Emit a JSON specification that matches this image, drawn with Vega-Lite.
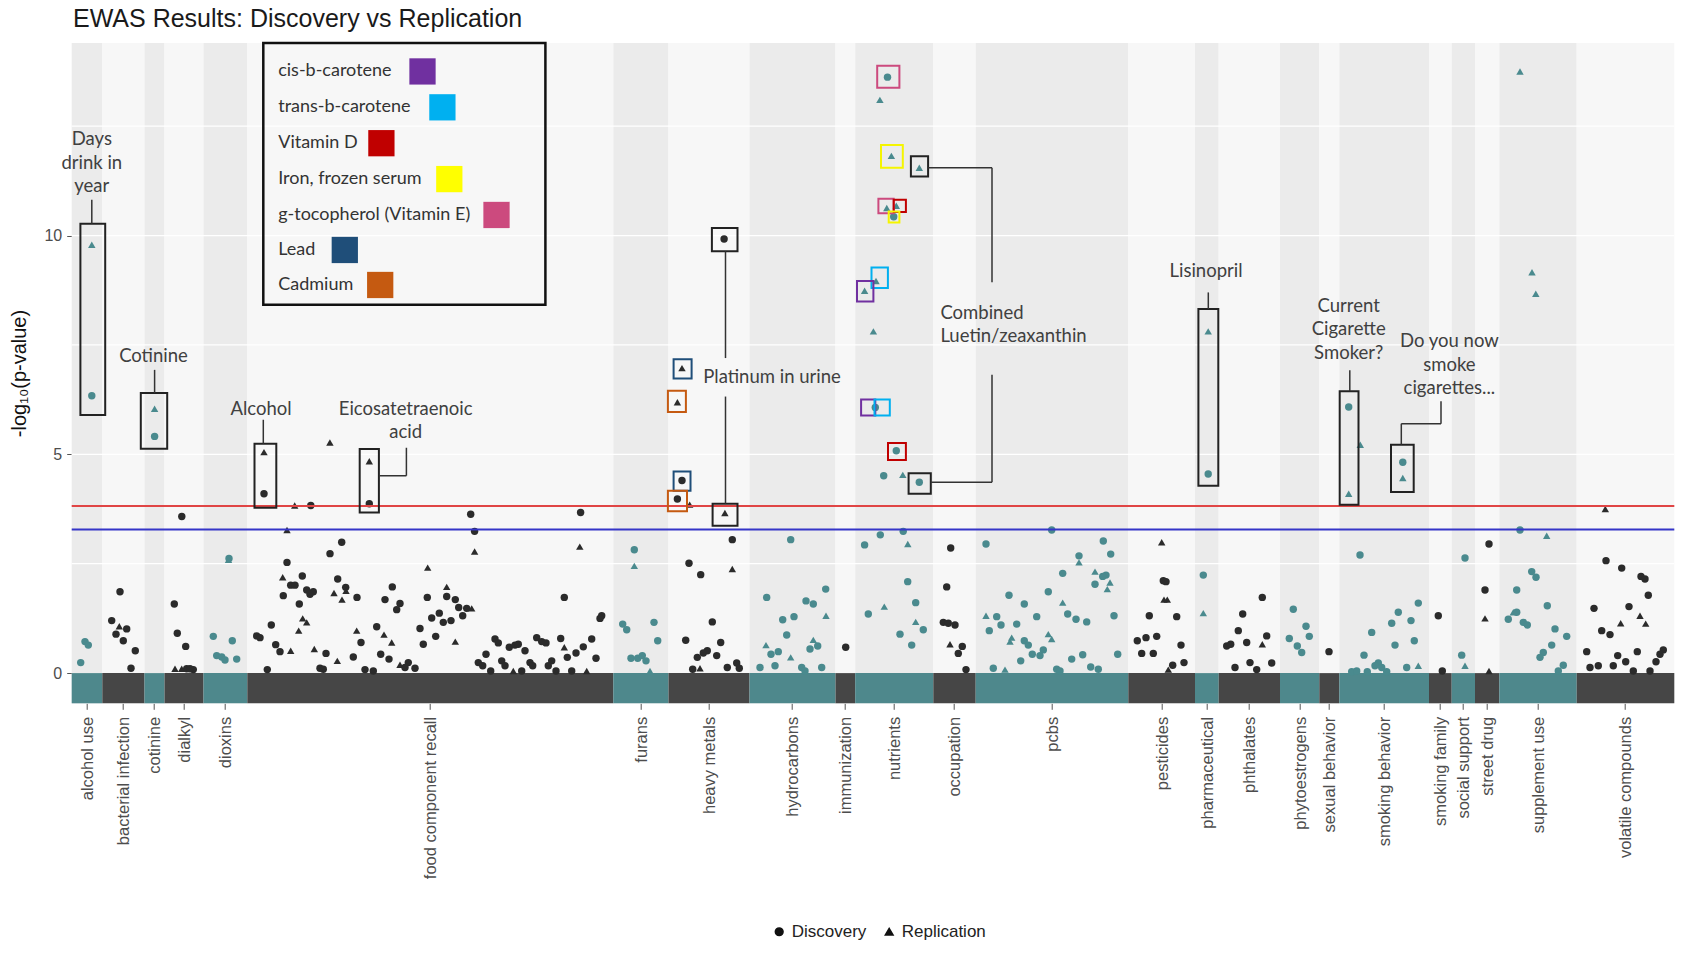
{
"$schema": "https://vega.github.io/schema/vega-lite/v6.json",
"width": 1602.6, "height": 660.3,
"autosize": {"type": "none"},
"padding": {"left": 71.7, "top": 43, "right": 14.7, "bottom": 251.7},
"background": "white",
"config": {"view": {"stroke": null}},
"datasets": {
"heading": [{"x":73,"y":14.77,"t":"EWAS Results: Discovery vs Replication"}],
"cats": [
{"n":"alcohol use","a":71.7,"b":102.3,"g":"t"},
{"n":"bacterial infection","a":102.3,"b":144.5,"g":"d"},
{"n":"cotinine","a":144.5,"b":164.5,"g":"t"},
{"n":"dialkyl","a":164.5,"b":203.5,"g":"d"},
{"n":"dioxins","a":203.5,"b":247.3,"g":"t"},
{"n":"food component recall","a":247.3,"b":613.3,"g":"d"},
{"n":"furans","a":613.3,"b":668.5,"g":"t"},
{"n":"heavy metals","a":668.5,"b":749.5,"g":"d"},
{"n":"hydrocarbons","a":749.5,"b":835.5,"g":"t"},
{"n":"immunization","a":835.5,"b":855.2,"g":"d"},
{"n":"nutrients","a":855.2,"b":933.3,"g":"t"},
{"n":"occupation","a":933.3,"b":975.7,"g":"d"},
{"n":"pcbs","a":975.7,"b":1128.3,"g":"t"},
{"n":"pesticides","a":1128.3,"b":1195,"g":"d"},
{"n":"pharmaceutical","a":1195,"b":1218.7,"g":"t"},
{"n":"phthalates","a":1218.7,"b":1280,"g":"d"},
{"n":"phytoestrogens","a":1280,"b":1319.3,"g":"t"},
{"n":"sexual behavior","a":1319.3,"b":1339.3,"g":"d"},
{"n":"smoking behavior","a":1339.3,"b":1429,"g":"t"},
{"n":"smoking family","a":1429,"b":1451.7,"g":"d"},
{"n":"social support","a":1451.7,"b":1475,"g":"t"},
{"n":"street drug","a":1475,"b":1499.3,"g":"d"},
{"n":"supplement use","a":1499.3,"b":1576.7,"g":"t"},
{"n":"volatile compounds","a":1576.7,"b":1674.3,"g":"d"}
],
"grid": [{"v":2.5},{"v":5},{"v":7.5},{"v":10},{"v":12.5}],
"thr": [{"v":3.82,"k":"Bonferroni"},{"v":3.28,"k":"FDR"}],
"pts": [
{"x":91.8,"p":9.79,"s":"R","g":"t"},{"x":91.8,"p":6.34,"s":"D","g":"t"},{"x":80.7,"p":0.24,"s":"D","g":"t"},{"x":85,"p":0.72,"s":"D","g":"t"},{"x":88.3,"p":0.64,"s":"D","g":"t"},
{"x":120,"p":1.86,"s":"D","g":"d"},{"x":111.7,"p":1.2,"s":"D","g":"d"},{"x":116,"p":0.89,"s":"D","g":"d"},{"x":119.3,"p":1.07,"s":"R","g":"d"},{"x":126.7,"p":1.01,"s":"D","g":"d"},{"x":123.3,"p":0.74,"s":"D","g":"d"},{"x":135.3,"p":0.51,"s":"D","g":"d"},{"x":131,"p":0.11,"s":"D","g":"d"},
{"x":154.6,"p":6.04,"s":"R","g":"t"},{"x":154.6,"p":5.41,"s":"D","g":"t"},
{"x":181.8,"p":3.58,"s":"D","g":"d"},{"x":174.3,"p":1.58,"s":"D","g":"d"},{"x":177.3,"p":0.91,"s":"D","g":"d"},{"x":185.7,"p":0.61,"s":"D","g":"d"},{"x":175,"p":0.1,"s":"R","g":"d"},{"x":181.7,"p":0.1,"s":"R","g":"d"},{"x":186.7,"p":0.1,"s":"D","g":"d"},{"x":193.3,"p":0.08,"s":"D","g":"d"},{"x":190,"p":0.1,"s":"D","g":"d"},
{"x":229,"p":2.62,"s":"D","g":"t"},{"x":228.5,"p":2.59,"s":"R","g":"t"},{"x":213.3,"p":0.84,"s":"D","g":"t"},{"x":232.3,"p":0.74,"s":"D","g":"t"},{"x":216.7,"p":0.4,"s":"D","g":"t"},{"x":221.7,"p":0.37,"s":"D","g":"t"},{"x":225,"p":0.3,"s":"D","g":"t"},{"x":236.7,"p":0.32,"s":"D","g":"t"},
{"x":264,"p":5.05,"s":"R","g":"d"},{"x":264,"p":4.1,"s":"D","g":"d"},{"x":369.3,"p":4.84,"s":"R","g":"d"},{"x":369.3,"p":3.87,"s":"D","g":"d"},{"x":329.9,"p":5.27,"s":"R","g":"d"},{"x":294.7,"p":3.83,"s":"R","g":"d"},{"x":310.8,"p":3.83,"s":"D","g":"d"},{"x":470.7,"p":3.63,"s":"D","g":"d"},{"x":580.6,"p":3.67,"s":"D","g":"d"},{"x":287,"p":3.27,"s":"R","g":"d"},{"x":474.6,"p":3.24,"s":"D","g":"d"},{"x":474.6,"p":2.78,"s":"R","g":"d"},{"x":579.8,"p":2.89,"s":"R","g":"d"},
{"x":256.7,"p":0.85,"s":"D","g":"d"},{"x":260,"p":0.81,"s":"D","g":"d"},{"x":267.3,"p":0.08,"s":"D","g":"d"},{"x":271.3,"p":1.1,"s":"D","g":"d"},{"x":275.7,"p":0.65,"s":"D","g":"d"},{"x":280,"p":0.49,"s":"D","g":"d"},{"x":290.7,"p":0.51,"s":"R","g":"d"},{"x":287,"p":2.53,"s":"D","g":"d"},{"x":282.7,"p":2.19,"s":"R","g":"d"},{"x":290.7,"p":2.01,"s":"D","g":"d"},{"x":295,"p":2.01,"s":"D","g":"d"},{"x":283.3,"p":1.77,"s":"D","g":"d"},{"x":302.3,"p":2.22,"s":"D","g":"d"},{"x":299.3,"p":1.58,"s":"D","g":"d"},{"x":302.7,"p":1.25,"s":"R","g":"d"},{"x":306.7,"p":1.16,"s":"R","g":"d"},{"x":298.7,"p":0.97,"s":"R","g":"d"},{"x":306.7,"p":1.9,"s":"D","g":"d"},{"x":313.3,"p":1.86,"s":"D","g":"d"},{"x":310,"p":1.8,"s":"D","g":"d"},{"x":314.3,"p":0.55,"s":"R","g":"d"},{"x":326,"p":0.45,"s":"D","g":"d"},{"x":320,"p":0.11,"s":"D","g":"d"},{"x":323.3,"p":0.09,"s":"D","g":"d"},{"x":330,"p":2.73,"s":"D","g":"d"},{"x":341.7,"p":2.99,"s":"D","g":"d"},{"x":337.7,"p":2.15,"s":"D","g":"d"},{"x":334,"p":1.83,"s":"R","g":"d"},{"x":345.7,"p":1.96,"s":"D","g":"d"},{"x":346,"p":1.88,"s":"R","g":"d"},{"x":342,"p":1.68,"s":"R","g":"d"},{"x":357,"p":1.73,"s":"D","g":"d"},{"x":337.3,"p":0.28,"s":"R","g":"d"},{"x":353.3,"p":0.37,"s":"D","g":"d"},{"x":356.7,"p":0.97,"s":"R","g":"d"},{"x":361,"p":0.7,"s":"D","g":"d"},{"x":365,"p":0.08,"s":"D","g":"d"},{"x":373.3,"p":0.05,"s":"D","g":"d"},{"x":376.7,"p":1.06,"s":"D","g":"d"},{"x":384,"p":0.88,"s":"R","g":"d"},{"x":391.7,"p":0.7,"s":"R","g":"d"},{"x":380.7,"p":0.43,"s":"D","g":"d"},{"x":389,"p":0.32,"s":"D","g":"d"},{"x":385,"p":1.68,"s":"D","g":"d"},{"x":392.3,"p":1.97,"s":"D","g":"d"},{"x":400,"p":1.59,"s":"D","g":"d"},{"x":396.7,"p":1.45,"s":"D","g":"d"},{"x":400,"p":0.19,"s":"R","g":"d"},{"x":408.3,"p":0.24,"s":"D","g":"d"},{"x":405,"p":0.13,"s":"D","g":"d"},{"x":415,"p":0.11,"s":"D","g":"d"},{"x":420,"p":1.02,"s":"D","g":"d"},{"x":423.3,"p":0.66,"s":"D","g":"d"},{"x":427.7,"p":2.41,"s":"R","g":"d"},{"x":427.3,"p":1.73,"s":"D","g":"d"},{"x":431.7,"p":1.26,"s":"D","g":"d"},{"x":435.7,"p":0.84,"s":"D","g":"d"},{"x":439.3,"p":1.37,"s":"D","g":"d"},{"x":443.3,"p":1.16,"s":"D","g":"d"},{"x":446.7,"p":1.97,"s":"R","g":"d"},{"x":446.7,"p":1.75,"s":"D","g":"d"},{"x":451,"p":1.2,"s":"D","g":"d"},{"x":455.3,"p":0.72,"s":"R","g":"d"},{"x":455.3,"p":1.68,"s":"D","g":"d"},{"x":458.7,"p":1.5,"s":"D","g":"d"},{"x":462.7,"p":1.31,"s":"D","g":"d"},{"x":466.7,"p":1.48,"s":"D","g":"d"},{"x":471.7,"p":1.48,"s":"R","g":"d"},{"x":478.3,"p":0.24,"s":"D","g":"d"},
{"x":564.3,"p":1.73,"s":"D","g":"d"},{"x":601.7,"p":1.31,"s":"D","g":"d"},{"x":600,"p":1.25,"s":"D","g":"d"},{"x":495,"p":0.78,"s":"D","g":"d"},{"x":498.3,"p":0.69,"s":"D","g":"d"},{"x":486,"p":0.43,"s":"D","g":"d"},{"x":482.7,"p":0.17,"s":"D","g":"d"},{"x":490.7,"p":0.05,"s":"D","g":"d"},{"x":501.7,"p":0.28,"s":"D","g":"d"},{"x":505,"p":0.17,"s":"D","g":"d"},{"x":509.3,"p":0.59,"s":"D","g":"d"},{"x":515,"p":0.64,"s":"D","g":"d"},{"x":518.3,"p":0.66,"s":"D","g":"d"},{"x":525,"p":0.51,"s":"D","g":"d"},{"x":513.3,"p":0.05,"s":"R","g":"d"},{"x":521.7,"p":0.05,"s":"D","g":"d"},{"x":530,"p":0.24,"s":"D","g":"d"},{"x":532.7,"p":0.17,"s":"D","g":"d"},{"x":536.7,"p":0.81,"s":"D","g":"d"},{"x":541.7,"p":0.72,"s":"D","g":"d"},{"x":546,"p":0.69,"s":"D","g":"d"},{"x":551.7,"p":0.28,"s":"D","g":"d"},{"x":548.3,"p":0.17,"s":"D","g":"d"},{"x":556,"p":0.05,"s":"D","g":"d"},{"x":560.7,"p":0.79,"s":"D","g":"d"},{"x":564.3,"p":0.59,"s":"R","g":"d"},{"x":567.3,"p":0.36,"s":"D","g":"d"},{"x":571.7,"p":0.05,"s":"D","g":"d"},{"x":576,"p":0.46,"s":"D","g":"d"},{"x":583.3,"p":0.6,"s":"D","g":"d"},{"x":586.7,"p":0.05,"s":"R","g":"d"},{"x":591.7,"p":0.78,"s":"D","g":"d"},{"x":596,"p":0.34,"s":"D","g":"d"},
{"x":634.3,"p":2.82,"s":"D","g":"t"},{"x":634.3,"p":2.45,"s":"R","g":"t"},{"x":622.7,"p":1.12,"s":"D","g":"t"},{"x":626.7,"p":0.99,"s":"D","g":"t"},{"x":654,"p":1.16,"s":"D","g":"t"},{"x":657.7,"p":0.74,"s":"D","g":"t"},{"x":631,"p":0.34,"s":"D","g":"t"},{"x":637.7,"p":0.34,"s":"D","g":"t"},{"x":642.3,"p":0.4,"s":"D","g":"t"},{"x":646,"p":0.28,"s":"D","g":"t"},{"x":650,"p":0.05,"s":"R","g":"t"},
{"x":682,"p":6.97,"s":"R","g":"d"},{"x":677.4,"p":6.19,"s":"R","g":"d"},{"x":682,"p":4.4,"s":"D","g":"d"},{"x":677.4,"p":3.98,"s":"D","g":"d"},{"x":689.7,"p":3.85,"s":"R","g":"d"},{"x":724.9,"p":3.66,"s":"R","g":"d"},{"x":724.1,"p":9.92,"s":"D","g":"d"},{"x":732.3,"p":3.05,"s":"D","g":"d"},{"x":732.3,"p":2.38,"s":"R","g":"d"},{"x":689,"p":2.51,"s":"D","g":"d"},{"x":700.7,"p":2.25,"s":"D","g":"d"},{"x":712.3,"p":1.17,"s":"D","g":"d"},{"x":685.7,"p":0.75,"s":"D","g":"d"},{"x":720.7,"p":0.7,"s":"D","g":"d"},{"x":707.3,"p":0.51,"s":"D","g":"d"},{"x":703.3,"p":0.46,"s":"D","g":"d"},{"x":697.3,"p":0.36,"s":"D","g":"d"},{"x":716.7,"p":0.4,"s":"D","g":"d"},{"x":692.7,"p":0.09,"s":"D","g":"d"},{"x":700,"p":0.11,"s":"R","g":"d"},{"x":727.3,"p":0.13,"s":"D","g":"d"},{"x":736.7,"p":0.23,"s":"D","g":"d"},{"x":739.3,"p":0.11,"s":"D","g":"d"},
{"x":790.7,"p":3.05,"s":"D","g":"t"},{"x":766.7,"p":1.73,"s":"D","g":"t"},{"x":825.7,"p":1.92,"s":"D","g":"t"},{"x":806,"p":1.65,"s":"D","g":"t"},{"x":813.3,"p":1.58,"s":"D","g":"t"},{"x":826,"p":1.31,"s":"R","g":"t"},{"x":794,"p":1.29,"s":"D","g":"t"},{"x":782.7,"p":1.22,"s":"D","g":"t"},{"x":786.7,"p":0.87,"s":"D","g":"t"},{"x":766,"p":0.64,"s":"R","g":"t"},{"x":813.3,"p":0.76,"s":"R","g":"t"},{"x":817.7,"p":0.62,"s":"D","g":"t"},{"x":810,"p":0.55,"s":"D","g":"t"},{"x":771,"p":0.43,"s":"D","g":"t"},{"x":778.3,"p":0.49,"s":"D","g":"t"},{"x":790.7,"p":0.36,"s":"R","g":"t"},{"x":775,"p":0.17,"s":"D","g":"t"},{"x":760,"p":0.13,"s":"D","g":"t"},{"x":801.7,"p":0.13,"s":"D","g":"t"},{"x":821.7,"p":0.13,"s":"D","g":"t"},{"x":805,"p":0.05,"s":"D","g":"t"},
{"x":845.7,"p":0.59,"s":"D","g":"d"},
{"x":887.5,"p":13.62,"s":"D","g":"t"},{"x":879.9,"p":13.1,"s":"R","g":"t"},{"x":891.4,"p":11.82,"s":"R","g":"t"},{"x":919.3,"p":11.55,"s":"R","g":"t"},{"x":886.8,"p":10.63,"s":"R","g":"t"},{"x":896.3,"p":10.68,"s":"R","g":"t"},{"x":893.7,"p":10.43,"s":"D","g":"t"},{"x":876,"p":8.96,"s":"R","g":"t"},{"x":864.6,"p":8.74,"s":"R","g":"t"},{"x":873.4,"p":7.81,"s":"R","g":"t"},{"x":875.3,"p":6.07,"s":"D","g":"t"},{"x":896.3,"p":5.08,"s":"D","g":"t"},{"x":883.7,"p":4.51,"s":"D","g":"t"},{"x":902.8,"p":4.53,"s":"R","g":"t"},{"x":919.3,"p":4.36,"s":"D","g":"t"},{"x":864.6,"p":2.93,"s":"D","g":"t"},{"x":880.3,"p":3.16,"s":"D","g":"t"},{"x":903.2,"p":3.24,"s":"D","g":"t"},{"x":907.8,"p":2.95,"s":"R","g":"t"},{"x":907.7,"p":2.09,"s":"D","g":"t"},{"x":915.7,"p":1.61,"s":"D","g":"t"},{"x":868.3,"p":1.35,"s":"D","g":"t"},{"x":884.3,"p":1.52,"s":"R","g":"t"},{"x":915.7,"p":1.17,"s":"R","g":"t"},{"x":923.3,"p":0.99,"s":"D","g":"t"},{"x":900,"p":0.89,"s":"D","g":"t"},{"x":911.7,"p":0.64,"s":"D","g":"t"},
{"x":950.7,"p":2.86,"s":"D","g":"d"},{"x":946.7,"p":1.97,"s":"D","g":"d"},{"x":943.3,"p":1.16,"s":"D","g":"d"},{"x":948.3,"p":1.14,"s":"D","g":"d"},{"x":955,"p":1.1,"s":"D","g":"d"},{"x":950,"p":0.66,"s":"R","g":"d"},{"x":962.3,"p":0.61,"s":"D","g":"d"},{"x":958.3,"p":0.45,"s":"D","g":"d"},{"x":966,"p":0.08,"s":"D","g":"d"},
{"x":986,"p":2.95,"s":"D","g":"t"},{"x":1103.3,"p":3.02,"s":"D","g":"t"},{"x":1051.7,"p":3.27,"s":"D","g":"t"},{"x":1110.7,"p":2.72,"s":"D","g":"t"},{"x":1079,"p":2.68,"s":"D","g":"t"},{"x":1079,"p":2.53,"s":"R","g":"t"},{"x":1062.7,"p":2.28,"s":"D","g":"t"},{"x":1095,"p":2.32,"s":"R","g":"t"},{"x":1106,"p":2.24,"s":"D","g":"t"},{"x":1102.7,"p":2.21,"s":"D","g":"t"},{"x":1095,"p":2.03,"s":"D","g":"t"},{"x":1110,"p":2.07,"s":"R","g":"t"},{"x":1107.3,"p":1.92,"s":"R","g":"t"},{"x":1048.3,"p":1.86,"s":"D","g":"t"},{"x":1009,"p":1.78,"s":"D","g":"t"},{"x":1024.3,"p":1.58,"s":"D","g":"t"},{"x":1062.7,"p":1.61,"s":"R","g":"t"},{"x":1067.7,"p":1.35,"s":"D","g":"t"},{"x":1076,"p":1.23,"s":"D","g":"t"},{"x":1086.7,"p":1.17,"s":"D","g":"t"},{"x":1114,"p":1.31,"s":"D","g":"t"},{"x":986,"p":1.31,"s":"R","g":"t"},{"x":996.7,"p":1.29,"s":"D","g":"t"},{"x":1036.7,"p":1.29,"s":"D","g":"t"},{"x":989.3,"p":0.97,"s":"D","g":"t"},{"x":1001,"p":1.1,"s":"D","g":"t"},{"x":1016.7,"p":1.12,"s":"D","g":"t"},{"x":1011.7,"p":0.81,"s":"R","g":"t"},{"x":1010,"p":0.72,"s":"R","g":"t"},{"x":1024.3,"p":0.74,"s":"D","g":"t"},{"x":1028.3,"p":0.64,"s":"D","g":"t"},{"x":1048.3,"p":0.89,"s":"R","g":"t"},{"x":1051.7,"p":0.78,"s":"R","g":"t"},{"x":1043.3,"p":0.53,"s":"D","g":"t"},{"x":1040,"p":0.4,"s":"D","g":"t"},{"x":1032.3,"p":0.43,"s":"D","g":"t"},{"x":1020.7,"p":0.28,"s":"D","g":"t"},{"x":1071.7,"p":0.32,"s":"D","g":"t"},{"x":1082.7,"p":0.42,"s":"D","g":"t"},{"x":1117.7,"p":0.43,"s":"D","g":"t"},{"x":1090.7,"p":0.14,"s":"D","g":"t"},{"x":1098.3,"p":0.09,"s":"D","g":"t"},{"x":993.3,"p":0.11,"s":"D","g":"t"},{"x":1005,"p":0.08,"s":"R","g":"t"},{"x":1056.7,"p":0.09,"s":"D","g":"t"},{"x":1060,"p":0.05,"s":"D","g":"t"},
{"x":1161.7,"p":2.99,"s":"R","g":"d"},{"x":1163.3,"p":2.11,"s":"D","g":"d"},{"x":1166,"p":2.09,"s":"D","g":"d"},{"x":1167.3,"p":1.68,"s":"R","g":"d"},{"x":1164,"p":1.68,"s":"R","g":"d"},{"x":1149.3,"p":1.31,"s":"D","g":"d"},{"x":1176.7,"p":1.29,"s":"D","g":"d"},{"x":1137.3,"p":0.74,"s":"D","g":"d"},{"x":1146,"p":0.81,"s":"D","g":"d"},{"x":1156.7,"p":0.84,"s":"D","g":"d"},{"x":1141.7,"p":0.45,"s":"D","g":"d"},{"x":1153.3,"p":0.45,"s":"D","g":"d"},{"x":1181,"p":0.64,"s":"D","g":"d"},{"x":1172.7,"p":0.18,"s":"D","g":"d"},{"x":1184,"p":0.24,"s":"D","g":"d"},{"x":1168.3,"p":0.08,"s":"R","g":"d"},
{"x":1208.2,"p":7.81,"s":"R","g":"t"},{"x":1208.2,"p":4.55,"s":"D","g":"t"},{"x":1203.3,"p":2.24,"s":"D","g":"t"},{"x":1203.3,"p":1.37,"s":"R","g":"t"},
{"x":1262.3,"p":1.73,"s":"D","g":"d"},{"x":1242.7,"p":1.35,"s":"D","g":"d"},{"x":1238.3,"p":0.97,"s":"D","g":"d"},{"x":1246.7,"p":0.7,"s":"D","g":"d"},{"x":1262.3,"p":0.66,"s":"R","g":"d"},{"x":1266.7,"p":0.85,"s":"D","g":"d"},{"x":1226.7,"p":0.62,"s":"D","g":"d"},{"x":1230.7,"p":0.66,"s":"D","g":"d"},{"x":1271.7,"p":0.23,"s":"D","g":"d"},{"x":1250,"p":0.24,"s":"D","g":"d"},{"x":1235,"p":0.13,"s":"D","g":"d"},{"x":1256.7,"p":0.08,"s":"D","g":"d"},
{"x":1293.3,"p":1.46,"s":"D","g":"t"},{"x":1306,"p":1.07,"s":"D","g":"t"},{"x":1309.3,"p":0.84,"s":"D","g":"t"},{"x":1289.3,"p":0.79,"s":"D","g":"t"},{"x":1297.3,"p":0.62,"s":"D","g":"t"},{"x":1301.7,"p":0.47,"s":"D","g":"t"},
{"x":1329,"p":0.49,"s":"D","g":"d"},
{"x":1348.7,"p":6.08,"s":"D","g":"t"},{"x":1348.7,"p":4.1,"s":"R","g":"t"},{"x":1360.3,"p":5.22,"s":"R","g":"t"},{"x":1402.8,"p":4.82,"s":"D","g":"t"},{"x":1402.8,"p":4.46,"s":"R","g":"t"},{"x":1360,"p":2.7,"s":"D","g":"t"},{"x":1418.3,"p":1.6,"s":"D","g":"t"},{"x":1398.3,"p":1.39,"s":"D","g":"t"},{"x":1391.7,"p":1.14,"s":"D","g":"t"},{"x":1411,"p":1.2,"s":"D","g":"t"},{"x":1371.7,"p":0.93,"s":"D","g":"t"},{"x":1414.3,"p":0.74,"s":"D","g":"t"},{"x":1395,"p":0.64,"s":"D","g":"t"},{"x":1364,"p":0.41,"s":"D","g":"t"},{"x":1378.3,"p":0.23,"s":"D","g":"t"},{"x":1375,"p":0.17,"s":"D","g":"t"},{"x":1381.7,"p":0.13,"s":"D","g":"t"},{"x":1406.7,"p":0.13,"s":"D","g":"t"},{"x":1418.3,"p":0.17,"s":"R","g":"t"},{"x":1351.7,"p":0.03,"s":"D","g":"t"},{"x":1356.7,"p":0.05,"s":"D","g":"t"},{"x":1367.3,"p":0.03,"s":"D","g":"t"},{"x":1386.7,"p":0.03,"s":"D","g":"t"},
{"x":1442.3,"p":0.05,"s":"D","g":"d"},{"x":1438.3,"p":1.31,"s":"D","g":"d"},
{"x":1465,"p":2.63,"s":"D","g":"t"},{"x":1461.7,"p":0.41,"s":"D","g":"t"},{"x":1465,"p":0.17,"s":"R","g":"t"},
{"x":1489,"p":2.95,"s":"D","g":"d"},{"x":1485,"p":1.9,"s":"D","g":"d"},{"x":1485,"p":1.25,"s":"R","g":"d"},{"x":1489,"p":0.05,"s":"R","g":"d"},
{"x":1520,"p":13.75,"s":"R","g":"t"},{"x":1532,"p":9.16,"s":"R","g":"t"},{"x":1535.8,"p":8.67,"s":"R","g":"t"},{"x":1520,"p":3.27,"s":"D","g":"t"},{"x":1546.7,"p":3.14,"s":"R","g":"t"},{"x":1531.7,"p":2.32,"s":"D","g":"t"},{"x":1536,"p":2.19,"s":"D","g":"t"},{"x":1516.7,"p":1.9,"s":"D","g":"t"},{"x":1547.3,"p":1.54,"s":"D","g":"t"},{"x":1513.3,"p":1.39,"s":"R","g":"t"},{"x":1516.7,"p":1.39,"s":"D","g":"t"},{"x":1508.3,"p":1.23,"s":"D","g":"t"},{"x":1523.3,"p":1.16,"s":"D","g":"t"},{"x":1527.3,"p":1.1,"s":"D","g":"t"},{"x":1555,"p":1.01,"s":"D","g":"t"},{"x":1566.7,"p":0.84,"s":"D","g":"t"},{"x":1551.7,"p":0.64,"s":"D","g":"t"},{"x":1543.3,"p":0.47,"s":"D","g":"t"},{"x":1540,"p":0.36,"s":"D","g":"t"},{"x":1563.3,"p":0.18,"s":"D","g":"t"},{"x":1558.3,"p":0.05,"s":"D","g":"t"},
{"x":1605.3,"p":3.75,"s":"R","g":"d"},{"x":1606,"p":2.57,"s":"D","g":"d"},{"x":1621.7,"p":2.4,"s":"D","g":"d"},{"x":1641,"p":2.21,"s":"D","g":"d"},{"x":1645,"p":2.15,"s":"D","g":"d"},{"x":1648.3,"p":1.78,"s":"D","g":"d"},{"x":1594,"p":1.48,"s":"D","g":"d"},{"x":1629,"p":1.52,"s":"D","g":"d"},{"x":1640,"p":1.31,"s":"R","g":"d"},{"x":1645.7,"p":1.13,"s":"R","g":"d"},{"x":1620.7,"p":1.14,"s":"R","g":"d"},{"x":1601.7,"p":0.97,"s":"D","g":"d"},{"x":1610,"p":0.88,"s":"D","g":"d"},{"x":1586.7,"p":0.49,"s":"D","g":"d"},{"x":1617.7,"p":0.4,"s":"D","g":"d"},{"x":1637.3,"p":0.49,"s":"D","g":"d"},{"x":1625.7,"p":0.26,"s":"D","g":"d"},{"x":1613.3,"p":0.17,"s":"D","g":"d"},{"x":1590,"p":0.13,"s":"D","g":"d"},{"x":1598.3,"p":0.17,"s":"D","g":"d"},{"x":1663.3,"p":0.53,"s":"D","g":"d"},{"x":1660,"p":0.43,"s":"D","g":"d"},{"x":1656,"p":0.26,"s":"D","g":"d"},{"x":1650,"p":0.05,"s":"D","g":"d"},{"x":1633.3,"p":0.05,"s":"D","g":"d"}
],
"boxes": [
{"a":80.4,"b":105.2,"lo":5.9,"hi":10.27,"k":"annotation"},
{"a":140.8,"b":167.2,"lo":5.13,"hi":6.4,"k":"annotation"},
{"a":254.5,"b":276.3,"lo":3.78,"hi":5.24,"k":"annotation"},
{"a":359.7,"b":378.9,"lo":3.67,"hi":5.12,"k":"annotation"},
{"a":673.6,"b":691.6,"lo":6.73,"hi":7.17,"k":"Lead"},
{"a":667.9,"b":685.9,"lo":5.97,"hi":6.45,"k":"Cadmium"},
{"a":673.6,"b":690.5,"lo":4.17,"hi":4.61,"k":"Lead"},
{"a":667.9,"b":687,"lo":3.7,"hi":4.17,"k":"Cadmium"},
{"a":712.6,"b":737.5,"lo":3.37,"hi":3.87,"k":"annotation"},
{"a":711.9,"b":737.5,"lo":9.64,"hi":10.17,"k":"annotation"},
{"a":877.2,"b":899.4,"lo":13.38,"hi":13.88,"k":"g-tocopherol (Vitamin E)"},
{"a":881,"b":902.8,"lo":11.55,"hi":12.07,"k":"Iron, frozen serum"},
{"a":910.9,"b":928.1,"lo":11.35,"hi":11.81,"k":"annotation"},
{"a":878.4,"b":893.7,"lo":10.51,"hi":10.84,"k":"g-tocopherol (Vitamin E)"},
{"a":893.7,"b":905.9,"lo":10.54,"hi":10.82,"k":"Vitamin D"},
{"a":888.7,"b":899.4,"lo":10.3,"hi":10.55,"k":"Iron, frozen serum"},
{"a":871.5,"b":887.9,"lo":8.8,"hi":9.27,"k":"trans-b-carotene"},
{"a":857,"b":873.4,"lo":8.49,"hi":8.96,"k":"cis-b-carotene"},
{"a":861.1,"b":875.3,"lo":5.89,"hi":6.25,"k":"cis-b-carotene"},
{"a":874.5,"b":889.8,"lo":5.89,"hi":6.25,"k":"trans-b-carotene"},
{"a":888,"b":905.9,"lo":4.87,"hi":5.26,"k":"Vitamin D"},
{"a":908.6,"b":930.8,"lo":4.1,"hi":4.57,"k":"annotation"},
{"a":1198.4,"b":1218.3,"lo":4.28,"hi":8.32,"k":"annotation"},
{"a":1339.7,"b":1358.5,"lo":3.85,"hi":6.44,"k":"annotation"},
{"a":1391,"b":1413.7,"lo":4.14,"hi":5.22,"k":"annotation"}
],
"links": [
{"a":91.8,"y1":10.27,"b":91.8,"y2":10.82},
{"a":154.6,"y1":6.4,"b":154.6,"y2":6.93},
{"a":263.3,"y1":5.24,"b":263.3,"y2":5.79},
{"a":378.9,"y1":4.51,"b":406.4,"y2":4.51},
{"a":406.4,"y1":4.51,"b":406.4,"y2":5.15},
{"a":725.5,"y1":9.64,"b":725.5,"y2":7.2},
{"a":725.5,"y1":6.32,"b":725.5,"y2":3.87},
{"a":928.1,"y1":11.55,"b":992,"y2":11.55},
{"a":992,"y1":11.55,"b":992,"y2":8.93},
{"a":992,"y1":6.82,"b":992,"y2":4.36},
{"a":992,"y1":4.36,"b":930.8,"y2":4.36},
{"a":1208.3,"y1":8.7,"b":1208.3,"y2":8.32},
{"a":1349.8,"y1":6.92,"b":1349.8,"y2":6.44},
{"a":1441,"y1":6.21,"b":1441,"y2":5.7},
{"a":1441,"y1":5.7,"b":1401.3,"y2":5.7},
{"a":1401.3,"y1":5.7,"b":1401.3,"y2":5.22}
],
"notes": [
{"x":91.8,"y":12.2,"t":"Days\ndrink in\nyear"},
{"x":153.5,"y":7.25,"t":"Cotinine"},
{"x":261,"y":6.04,"t":"Alcohol"},
{"x":405.7,"y":6.04,"t":"Eicosatetraenoic\nacid"},
{"x":772,"y":6.76,"t":"Platinum in urine"},
{"x":1206,"y":9.18,"t":"Lisinopril"},
{"x":1348.7,"y":8.4,"t":"Current\nCigarette\nSmoker?"},
{"x":1449.4,"y":7.58,"t":"Do you now\nsmoke\ncigarettes..."}
],
"notesLeft": [
{"x":940.4,"y":8.23,"t":"Combined\nLuetin/zeaxanthin"}
],
"keybox": [{"a":263.3,"b":545.4,"lo":8.42,"hi":14.4}],
"keys": [
{"n":"cis-b-carotene","lx":278.2,"sx":422.5,"y":13.75},
{"n":"trans-b-carotene","lx":278.2,"sx":442.4,"y":12.93},
{"n":"Vitamin D","lx":278.2,"sx":381.4,"y":12.11},
{"n":"Iron, frozen serum","lx":278.2,"sx":449.3,"y":11.29},
{"n":"g-tocopherol (Vitamin E)","lx":278.2,"sx":496.5,"y":10.47},
{"n":"Lead","lx":278.2,"sx":344.8,"y":9.67},
{"n":"Cadmium","lx":278.2,"sx":380.2,"y":8.87}
]
},
"layer": [
{
"data": {"name": "cats"},
"mark": {"type": "rect"},
"encoding": {
"x": {"field": "a", "type": "quantitative", "scale": {"domain": [71.7, 1674.3], "nice": false, "zero": false},
 "axis": {"title": null, "grid": false, "domain": false, "values": [87,123,154,184,225,430,641,709,792,845,894,954,1052,1162,1207,1249,1300,1329,1384,1440,1463,1487,1538,1625],
  "labelExpr": "['alcohol use','bacterial infection','cotinine','dialkyl','dioxins','food component recall','furans','heavy metals','hydrocarbons','immunization','nutrients','occupation','pcbs','pesticides','pharmaceutical','phthalates','phytoestrogens','sexual behavior','smoking behavior','smoking family','social support','street drug','supplement use','volatile compounds'][indexof([87,123,154,184,225,430,641,709,792,845,894,954,1052,1162,1207,1249,1300,1329,1384,1440,1463,1487,1538,1625], datum.value)]",
  "labelAngle": -90, "labelFont": "Liberation Sans", "labelFontSize": 16.5, "labelColor": "#4d4d4d", "labelOverlap": false, "labelBound": false, "labelFlush": false, "labelPadding": 7, "labelLimit": 0,
  "tickColor": "#555555", "tickSize": 6, "tickWidth": 1}},
"x2": {"field": "b"},
"color": {"field": "g", "type": "nominal", "scale": {"domain": ["t","d"], "range": ["#ebebeb","#f7f7f7"]}, "legend": null}
}
},
{
"data": {"name": "grid"},
"mark": {"type": "rule", "color": "#ffffff", "strokeWidth": 1.2},
"encoding": {
"y": {"field": "v", "type": "quantitative", "scale": {"domain": [-0.69, 14.4], "nice": false, "zero": false},
 "axis": {"values": [0,5,10], "grid": false, "domain": false, "labelFont": "Liberation Sans", "labelFontSize": 16, "labelColor": "#4d4d4d", "labelPadding": 5, "tickColor": "#555555", "tickSize": 5,
  "title": "-log₁₀(p-value)", "titleFont": "Liberation Sans", "titleFontSize": 20, "titleFontWeight": "normal", "titleColor": "#111111", "titleX": -52, "titleY": 330, "titleBaseline": "middle", "titleAlign": "center", "titleAngle": 270}}
}
},
{
"data": {"name": "cats"},
"mark": {"type": "rect"},
"encoding": {
"x": {"field": "a", "type": "quantitative"},
"x2": {"field": "b"},
"y": {"datum": 0, "type": "quantitative"},
"y2": {"datum": -0.69},
"color": {"field": "g", "type": "nominal", "scale": {"domain": ["t","d"], "range": ["#4e888c","#464646"]}, "legend": null}
}
},
{
"data": {"name": "pts"},
"mark": {"type": "point", "filled": true, "size": 55, "opacity": 1},
"encoding": {
"x": {"field": "x", "type": "quantitative"},
"y": {"field": "p", "type": "quantitative"},
"shape": {"field": "s", "type": "nominal", "scale": {"domain": ["D","R"], "range": ["circle","triangle-up"]},
 "legend": {"orient": "none", "legendX": 699, "legendY": 880, "direction": "horizontal", "title": null, "labelExpr": "datum.label == 'D' ? 'Discovery' : 'Replication'", "labelFont": "Liberation Sans", "labelFontSize": 17, "labelColor": "#222222", "symbolFillColor": "#111111", "symbolStrokeColor": "#111111", "symbolSize": 60, "columnPadding": 14}},
"color": {"field": "g", "type": "nominal", "scale": {"domain": ["t","d"], "range": ["#4a8a8e","#2b2b2b"]}, "legend": null}
}
},
{
"data": {"name": "thr"},
"mark": {"type": "rule", "strokeWidth": 2},
"encoding": {
"y": {"field": "v", "type": "quantitative"},
"color": {"field": "k", "type": "nominal", "scale": {"domain": ["Bonferroni","FDR"], "range": ["#e04545","#3535c8"]}, "legend": null}
}
},
{
"data": {"name": "boxes"},
"mark": {"type": "rect", "filled": false, "strokeWidth": 2},
"encoding": {
"x": {"field": "a", "type": "quantitative"},
"x2": {"field": "b"},
"y": {"field": "lo", "type": "quantitative"},
"y2": {"field": "hi"},
"color": {"field": "k", "type": "nominal", "scale": {"domain": ["annotation","cis-b-carotene","trans-b-carotene","Vitamin D","Iron, frozen serum","g-tocopherol (Vitamin E)","Lead","Cadmium"], "range": ["#222222","#7030a0","#00b0f0","#c00000","#f5f500","#cc4a7e","#1f4e79","#c55a11"]}, "legend": null}
}
},
{
"data": {"name": "links"},
"mark": {"type": "rule", "color": "#333333", "strokeWidth": 1.5},
"encoding": {
"x": {"field": "a", "type": "quantitative"},
"x2": {"field": "b"},
"y": {"field": "y1", "type": "quantitative"},
"y2": {"field": "y2"}
}
},
{
"data": {"name": "notes"},
"mark": {"type": "text", "font": "Lato", "fontSize": 18.5, "color": "#404040", "align": "center", "baseline": "middle", "lineBreak": "\n", "lineHeight": 23.5},
"encoding": {
"x": {"field": "x", "type": "quantitative"},
"y": {"field": "y", "type": "quantitative"},
"text": {"field": "t"}
}
},
{
"data": {"name": "notesLeft"},
"mark": {"type": "text", "font": "Lato", "fontSize": 18.5, "color": "#404040", "align": "left", "baseline": "middle", "lineBreak": "\n", "lineHeight": 23.5},
"encoding": {
"x": {"field": "x", "type": "quantitative"},
"y": {"field": "y", "type": "quantitative"},
"text": {"field": "t"}
}
},
{
"data": {"name": "keybox"},
"mark": {"type": "rect", "fill": null, "stroke": "#111111", "strokeWidth": 2.5},
"encoding": {
"x": {"field": "a", "type": "quantitative"},
"x2": {"field": "b"},
"y": {"field": "lo", "type": "quantitative"},
"y2": {"field": "hi"}
}
},
{
"data": {"name": "keys"},
"mark": {"type": "text", "font": "Lato", "fontSize": 18, "color": "#333333", "align": "left", "baseline": "middle"},
"encoding": {
"x": {"field": "lx", "type": "quantitative"},
"y": {"field": "y", "type": "quantitative"},
"text": {"field": "n"}
}
},
{
"data": {"name": "keys"},
"mark": {"type": "point", "shape": "square", "filled": true, "size": 690, "opacity": 1},
"encoding": {
"x": {"field": "sx", "type": "quantitative"},
"y": {"field": "y", "type": "quantitative"},
"color": {"field": "n", "type": "nominal", "scale": {"domain": ["cis-b-carotene","trans-b-carotene","Vitamin D","Iron, frozen serum","g-tocopherol (Vitamin E)","Lead","Cadmium"], "range": ["#7030a0","#00b0f0","#c00000","#ffff00","#cc4a7e","#1f4e79","#c55a11"]}, "legend": null}
}
},
{
"data": {"name": "heading"},
"mark": {"type": "text", "font": "Liberation Sans", "fontSize": 25, "color": "#1a1a1a", "align": "left", "baseline": "alphabetic"},
"encoding": {
"x": {"field": "x", "type": "quantitative"},
"y": {"field": "y", "type": "quantitative"},
"text": {"field": "t"}
}
}
],
"resolve": {"scale": {"color": "independent", "shape": "independent"}}
}
